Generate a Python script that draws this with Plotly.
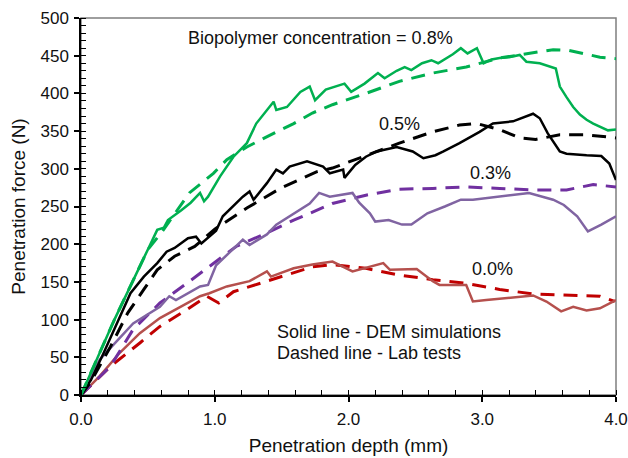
import plotly.graph_objects as go

# Penetration depth (mm) and force (N) for each biopolymer concentration
dem_00_x = [0, 0.14, 0.29, 0.44, 0.59, 0.74, 0.89, 0.96, 1.09, 1.26, 1.39, 1.42, 1.59, 1.73, 1.88, 2.03, 2.15, 2.26, 2.31, 2.51, 2.63, 2.68, 2.88, 2.93, 3.03, 3.38, 3.48, 3.59, 3.68, 3.78, 3.88, 4.0]
dem_00_y = [0, 25, 56, 82, 102, 117, 131, 135, 144, 151, 164, 157, 168, 173, 177, 164, 170, 175, 166, 167, 151, 146, 146, 124, 126, 132, 124, 111, 117, 112, 115, 126]
lab_00_x = [0, 0.22, 0.44, 0.59, 0.79, 0.94, 1.0, 1.03, 1.14, 1.39, 1.59, 1.73, 1.88, 2.13, 2.38, 2.63, 2.88, 3.13, 3.38, 3.63, 3.88, 3.99]
lab_00_y = [0, 38, 69, 91, 113, 131, 125, 122, 137, 151, 162, 170, 173, 168, 159, 153, 148, 140, 134, 133, 131, 124]

dem_03_x = [0, 0.14, 0.39, 0.59, 0.66, 0.71, 0.89, 0.95, 1.01, 1.14, 1.21, 1.26, 1.39, 1.46, 1.59, 1.71, 1.78, 1.86, 2.03, 2.08, 2.16, 2.20, 2.30, 2.40, 2.47, 2.59, 2.72, 2.84, 2.93, 3.13, 3.35, 3.53, 3.61, 3.71, 3.79, 3.89, 4.0]
dem_03_y = [0, 47, 95, 117, 131, 126, 144, 146, 172, 195, 206, 199, 213, 226, 241, 254, 268, 263, 268, 255, 241, 230, 232, 226, 226, 241, 250, 259, 259, 263, 268, 259, 252, 237, 217, 226, 237]
lab_03_x = [0, 0.22, 0.39, 0.59, 0.79, 0.99, 1.16, 1.39, 1.59, 1.71, 1.88, 2.13, 2.38, 2.63, 2.88, 3.13, 3.38, 3.63, 3.83, 4.0]
lab_03_y = [0, 38, 87, 122, 148, 175, 197, 215, 232, 241, 254, 265, 273, 274, 276, 274, 272, 272, 279, 276]

dem_05_x = [0, 0.075, 0.17, 0.27, 0.37, 0.47, 0.57, 0.64, 0.70, 0.80, 0.86, 0.90, 0.96, 1.01, 1.06, 1.21, 1.26, 1.29, 1.39, 1.46, 1.51, 1.56, 1.69, 1.81, 1.86, 1.96, 1.97, 2.05, 2.13, 2.21, 2.36, 2.48, 2.56, 2.65, 2.71, 2.83, 2.98, 3.08, 3.23, 3.38, 3.43, 3.49, 3.58, 3.63, 3.78, 3.89, 3.95, 4.0]
dem_05_y = [0, 20, 56, 95, 135, 157, 175, 190, 195, 208, 210, 201, 210, 218, 237, 263, 270, 259, 281, 299, 294, 303, 310, 303, 294, 299, 288, 305, 316, 323, 329, 323, 314, 318, 323, 334, 349, 360, 363, 373, 367, 347, 323, 320, 318, 317, 307, 285]
lab_05_x = [0, 0.075, 0.22, 0.35, 0.47, 0.57, 0.70, 0.85, 1.0, 1.24, 1.49, 1.76, 1.88, 2.13, 2.38, 2.63, 2.83, 2.96, 3.13, 3.28, 3.40, 3.58, 3.78, 4.0]
lab_05_y = [0, 18, 64, 109, 140, 166, 184, 197, 220, 248, 274, 296, 301, 318, 334, 349, 358, 360, 352, 341, 339, 345, 345, 341]

dem_08_x = [0, 0.1, 0.25, 0.5, 0.57, 0.62, 0.65, 0.75, 0.82, 0.89, 0.92, 0.95, 1.04, 1.14, 1.24, 1.31, 1.39, 1.44, 1.46, 1.54, 1.64, 1.71, 1.75, 1.83, 1.97, 2.02, 2.12, 2.22, 2.27, 2.36, 2.42, 2.47, 2.55, 2.62, 2.67, 2.78, 2.84, 2.89, 2.96, 3.01, 3.07, 3.13, 3.2, 3.28, 3.33, 3.43, 3.55, 3.58, 3.63, 3.68, 3.73, 3.78, 3.83, 3.88, 3.94, 4.0]
dem_08_y = [0, 40, 100, 193, 219, 222, 232, 245, 255, 268, 257, 263, 290, 316, 334, 360, 378, 389, 378, 382, 402, 409, 391, 405, 413, 402, 413, 427, 420, 430, 435, 431, 440, 444, 440, 452, 460, 453, 460, 440, 445, 447, 448, 451, 442, 440, 433, 409, 395, 382, 372, 365, 360, 356, 351, 352]
lab_08_x = [0, 0.25, 0.5, 0.6, 0.81, 0.99, 1.09, 1.24, 1.44, 1.59, 1.73, 1.88, 2.13, 2.38, 2.63, 2.88, 3.13, 3.38, 3.53, 3.65, 3.75, 3.88, 4.0]
lab_08_y = [0, 100, 193, 215, 268, 294, 312, 329, 347, 360, 374, 385, 400, 416, 427, 435, 447, 454, 458, 457, 453, 448, 446]

# Concentration labels placed next to their curves
label_text = ["Biopolymer concentration = 0.8%", "0.5%", "0.3%", "0.0%"]
label_x = [1.79, 2.38, 3.06, 3.08]
label_y = [473, 360, 295, 167]

note_text = ["Solid line - DEM simulations", "Dashed line - Lab tests"]
note_y = [84, 56]
note_x = 1.45

FONT = "Liberation Sans, Arial, sans-serif"
DASH = "14px,9px"

series = [
    (lab_00_x, lab_00_y, "#C00000", True),
    (dem_00_x, dem_00_y, "#B5504D", False),
    (lab_03_x, lab_03_y, "#7030A0", True),
    (dem_03_x, dem_03_y, "#8064A2", False),
    (lab_05_x, lab_05_y, "#000000", True),
    (dem_05_x, dem_05_y, "#000000", False),
    (lab_08_x, lab_08_y, "#00B050", True),
    (dem_08_x, dem_08_y, "#00B050", False),
]

fig = go.Figure()
for xs, ys, color, dashed in series:
    fig.add_trace(go.Scatter(
        x=xs, y=ys, mode="lines", showlegend=False,
        line=dict(color=color, width=3 if dashed else 2.5,
                  dash=DASH if dashed else "solid"),
    ))

for t, x, y in zip(label_text, label_x, label_y):
    fig.add_annotation(x=x, y=y, text=t, showarrow=False,
                       font=dict(family=FONT, size=18, color="#111111"))

for t, y in zip(note_text, note_y):
    fig.add_annotation(x=note_x, y=y, text=t, showarrow=False, xanchor="left",
                       font=dict(family=FONT, size=18, color="#111111"))

# Grey frame on top and right; black axis lines on left and bottom
fig.add_shape(type="rect", xref="paper", yref="paper", x0=0, y0=0, x1=1, y1=1,
              line=dict(color="#7F7F7F", width=1.5), layer="below")

fig.update_layout(
    width=628, height=458,
    margin=dict(l=81, r=12, t=18, b=63),
    paper_bgcolor="white", plot_bgcolor="white",
    font=dict(family=FONT, color="#111111"),
)
fig.update_xaxes(
    range=[0, 4], dtick=1, tickformat=".1f", automargin=False,
    showgrid=False, zeroline=False,
    showline=True, linecolor="#000000", linewidth=1.5,
    ticks="outside", ticklen=5, tickwidth=1.5, tickcolor="#000000",
    minor=dict(dtick=0.2, ticks="inside", ticklen=5, tickwidth=1, tickcolor="#000000"),
    tickfont=dict(size=17), ticklabelstandoff=3,
    title=dict(text="Penetration depth (mm)", font=dict(size=19), standoff=11),
)
fig.update_yaxes(
    range=[0, 500], dtick=50, automargin=False,
    showgrid=False, zeroline=False,
    showline=True, linecolor="#000000", linewidth=1.5,
    ticks="outside", ticklen=5, tickwidth=1.5, tickcolor="#000000",
    minor=dict(dtick=10, ticks="inside", ticklen=5, tickwidth=1, tickcolor="#000000"),
    tickfont=dict(size=17), ticklabelstandoff=2,
    title=dict(text="Penetration force (N)", font=dict(size=19), standoff=10),
)

fig.write_html("out.html")
